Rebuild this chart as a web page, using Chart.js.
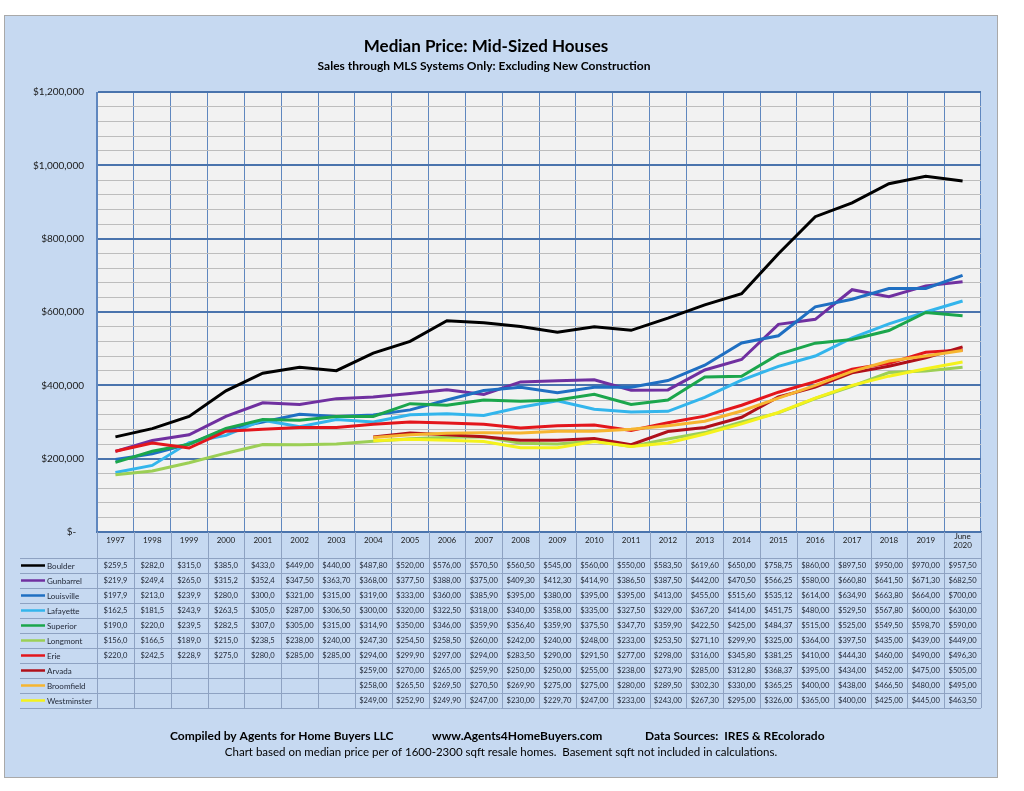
<!DOCTYPE html>
<html><head><meta charset="utf-8">
<script src="https://cdn.jsdelivr.net/npm/chart.js@4"></script>
<style>html,body{margin:0;padding:0;background:#fff}canvas{display:block}</style>
</head><body>
<canvas id="c" width="1024" height="791"></canvas>
<script>
// ---- data (values in $ thousands) ----
const categories = ['1997','1998','1999','2000','2001','2002','2003','2004','2005','2006','2007','2008','2009','2010','2011','2012','2013','2014','2015','2016','2017','2018','2019',['June','2020']];
const boulder     = [259.5,282.0,315.0,385.0,433.0,449.0,440.0,487.8,520.0,576.0,570.5,560.5,545.0,560.0,550.0,583.5,619.6,650.0,758.75,860.0,897.5,950.0,970.0,957.5];
const gunbarrel   = [219.9,249.4,265.0,315.2,352.4,347.5,363.7,368.0,377.5,388.0,375.0,409.3,412.3,414.9,386.5,387.5,442.0,470.5,566.25,580.0,660.8,641.5,671.3,682.5];
const louisville  = [197.9,213.0,239.9,280.0,300.0,321.0,315.0,319.0,333.0,360.0,385.9,395.0,380.0,395.0,395.0,413.0,455.0,515.6,535.12,614.0,634.9,663.8,664.0,700.0];
const lafayette   = [162.5,181.5,243.9,263.5,305.0,287.0,306.5,300.0,320.0,322.5,318.0,340.0,358.0,335.0,327.5,329.0,367.2,414.0,451.75,480.0,529.5,567.8,600.0,630.0];
const superior    = [190.0,220.0,239.5,282.5,307.0,305.0,315.0,314.9,350.0,346.0,359.9,356.4,359.9,375.5,347.7,359.9,422.5,425.0,484.37,515.0,525.0,549.5,598.7,590.0];
const longmont    = [156.0,166.5,189.0,215.0,238.5,238.0,240.0,247.3,254.5,258.5,260.0,242.0,240.0,248.0,233.0,253.5,271.1,299.9,325.0,364.0,397.5,435.0,439.0,449.0];
const erie        = [220.0,242.5,228.9,275.0,280.0,285.0,285.0,294.0,299.9,297.0,294.0,283.5,290.0,291.5,277.0,298.0,316.0,345.8,381.25,410.0,444.3,460.0,490.0,496.3];
const arvada      = [null,null,null,null,null,null,null,259.0,270.0,265.0,259.9,250.0,250.0,255.0,238.0,273.9,285.0,312.8,368.37,395.0,434.0,452.0,475.0,505.0];
const broomfield  = [null,null,null,null,null,null,null,258.0,265.5,269.5,270.5,269.9,275.0,275.0,280.0,289.5,302.3,330.0,365.25,400.0,438.0,466.5,480.0,495.0];
const westminster = [null,null,null,null,null,null,null,249.0,252.9,249.9,247.0,230.0,229.7,247.0,233.0,243.0,267.3,295.0,326.0,365.0,400.0,425.0,445.0,463.5];

const seriesNames  = ['Boulder','Gunbarrel','Louisville','Lafayette','Superior','Longmont','Erie','Arvada','Broomfield','Westminster'];
const seriesValues = [boulder,gunbarrel,louisville,lafayette,superior,longmont,erie,arvada,broomfield,westminster];
const seriesColors = ['#000000','#7030a0','#1f6fc2','#33b5ec','#1ba64c','#9ccf55','#e3161c','#b0101a','#f6b530','#f4f21c'];

const yMin = 0, yMax = 1200, yMinorStep = 40, yMajorStep = 200;

const titleText    = 'Median Price: Mid-Sized Houses';
const subtitleText = 'Sales through MLS Systems Only: Excluding New Construction';
const footerLeft   = 'Compiled by Agents for Home Buyers LLC';
const footerMid    = 'www.Agents4HomeBuyers.com';
const footerRight  = 'Data Sources:  IRES & REcolorado';
const footerNote   = 'Chart based on median price per of 1600-2300 sqft resale homes.  Basement sqft not included in calculations.';

const FONT = 'Lato, "Open Sans", sans-serif';
const MAJOR = '#4a74ad', MINOR = '#bdbdbd', VGRID = '#5f87bf', TABLE = '#8ea2c2';

function fmtAxis(v){
  if (v === 0) return '$-   ';
  return '$' + (v*1000).toLocaleString('en-US');
}
function fmtCell(v, col){
  const d = col < 5 ? 1 : 2;
  return '$' + v.toFixed(d).replace('.', ',');
}

const decorPlugin = {
  id: 'decor',
  beforeDraw(chart){
    const {ctx, chartArea: a} = chart;
    ctx.save();
    ctx.fillStyle = '#ffffff';
    ctx.fillRect(0, 0, chart.width, chart.height);
    ctx.fillStyle = '#c6d9f1';
    ctx.fillRect(4.5, 15.5, 993, 762);
    ctx.strokeStyle = '#a9a9a9';
    ctx.lineWidth = 1;
    ctx.strokeRect(4.5, 15.5, 993, 762);
    ctx.fillStyle = '#f2f2f2';
    ctx.fillRect(a.left, a.top, a.right - a.left, a.bottom - a.top);
    ctx.restore();
  },
  afterDraw(chart){
    const {ctx, chartArea: a} = chart;
    const xs = chart.scales.x;
    const n = categories.length;
    const catW = xs.getPixelForValue(1) - xs.getPixelForValue(0);
    const headerH = 26, rowH = 15;
    const rowsTop = a.bottom + headerH;
    const tableBottom = rowsTop + rowH * seriesNames.length;
    const legendLeft = 20;
    ctx.save();
    // table grid
    ctx.strokeStyle = TABLE;
    ctx.lineWidth = 1;
    ctx.beginPath();
    for (let i = 0; i <= n; i++) {
      const x = Math.round(xs.getPixelForValue(0) - catW/2 + i*catW) + 0.5;
      ctx.moveTo(x, a.bottom); ctx.lineTo(x, tableBottom);
    }
    for (let r = 0; r <= seriesNames.length; r++) {
      const y = Math.round(rowsTop + r*rowH) + 0.5;
      ctx.moveTo(legendLeft, y); ctx.lineTo(a.right, y);
    }
    ctx.stroke();
    // rows
    for (let r = 0; r < seriesNames.length; r++) {
      const cy = rowsTop + r*rowH + rowH/2;
      ctx.strokeStyle = seriesColors[r];
      ctx.lineWidth = 2.5;
      ctx.beginPath();
      ctx.moveTo(legendLeft + 1, cy); ctx.lineTo(legendLeft + 25, cy);
      ctx.stroke();
      ctx.fillStyle = '#1e2433';
      ctx.font = '8px ' + FONT;
      ctx.textAlign = 'left';
      ctx.textBaseline = 'middle';
      ctx.fillText(seriesNames[r], legendLeft + 27, cy + 0.5);
      ctx.textAlign = 'center';
      ctx.font = '7.6px ' + FONT;
      const vals = seriesValues[r];
      for (let i = 0; i < n; i++) {
        if (vals[i] == null) continue;
        ctx.fillText(fmtCell(vals[i], i), xs.getPixelForValue(i), cy + 0.5);
      }
    }
    // titles
    ctx.fillStyle = '#000';
    ctx.textAlign = 'center';
    ctx.textBaseline = 'middle';
    ctx.font = 'bold 17px ' + FONT;
    ctx.fillText(titleText, 486, 47);
    ctx.font = 'bold 12px ' + FONT;
    ctx.fillText(subtitleText, 484, 66);
    // footer
    ctx.textAlign = 'left';
    ctx.font = 'bold 12px ' + FONT;
    ctx.fillText(footerLeft, 170, 736);
    ctx.fillText(footerMid, 432, 736);
    ctx.fillText(footerRight, 645, 736);
    ctx.textAlign = 'center';
    ctx.font = '11.5px ' + FONT;
    ctx.fillText(footerNote, 501, 752);
    ctx.restore();
  }
};

new Chart(document.getElementById('c'), {
  type: 'line',
  data: {
    labels: categories,
    datasets: seriesNames.map((name, i) => ({
      label: name,
      data: seriesValues[i],
      borderColor: seriesColors[i],
      backgroundColor: seriesColors[i],
      borderWidth: 3,
      pointRadius: 0,
      tension: 0,
      fill: false,
      spanGaps: false,
      order: -i
    }))
  },
  options: {
    responsive: false,
    animation: false,
    layout: { padding: { top: 92, left: 0, right: 43, bottom: 0 } },
    plugins: { legend: { display: false }, tooltip: { enabled: false }, title: { display: false } },
    scales: {
      x: {
        type: 'category',
        offset: true,
        afterFit(s){ s.height = 791 - 532; },
        grid: { offset: true, color: VGRID, lineWidth: 1, drawTicks: false },
        border: { color: MAJOR, width: 2 },
        ticks: { font: { family: FONT, size: 8 }, color: '#1a1a1a', padding: 4, crossAlign: 'center', maxRotation: 0, minRotation: 0, autoSkip: false }
      },
      y: {
        min: yMin, max: yMax,
        afterFit(s){ s.width = 97; },
        grid: {
          drawTicks: false,
          color: c => (c.tick && c.tick.value % yMajorStep === 0) ? MAJOR : MINOR,
          lineWidth: c => (c.tick && c.tick.value % yMajorStep === 0) ? 2 : 1
        },
        border: { color: VGRID, width: 1 },
        ticks: {
          stepSize: yMinorStep,
          autoSkip: false,
          padding: 13,
          color: '#1a1a1a',
          font: { family: FONT, size: 10 },
          callback: v => (v % yMajorStep === 0) ? fmtAxis(v) : ''
        }
      }
    }
  },
  plugins: [decorPlugin]
});
</script>
</body></html>
